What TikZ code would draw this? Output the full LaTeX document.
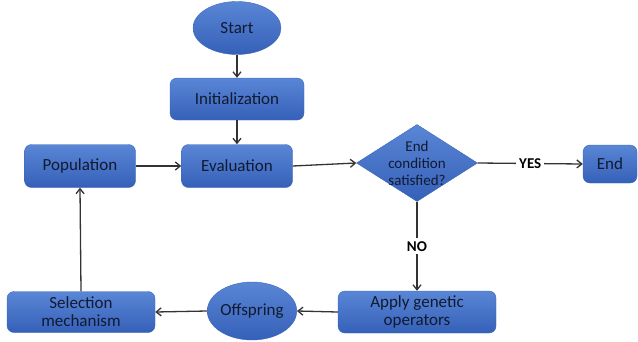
\documentclass[tikz,border=0pt]{standalone}
\usepackage{fontspec}
\setmainfont{Carlito}
\usetikzlibrary{shapes.geometric,arrows.meta}
\definecolor{boxtop}{HTML}{5A86D6}
\definecolor{boxbot}{HTML}{3560B8}
\definecolor{boxedge}{HTML}{3B66BA}
\definecolor{boxtext}{HTML}{111A30}
\definecolor{linecol}{HTML}{333333}
\begin{document}
\begin{tikzpicture}[x=1pt,y=-1pt,
  box/.style={rectangle, rounded corners=7pt, draw=boxedge, top color=boxtop, bottom color=boxbot, text=boxtext, font=\fontsize{17}{18}\selectfont, align=center, inner sep=0pt},
  oval/.style={ellipse, draw=boxedge, top color=boxtop, bottom color=boxbot, text=boxtext, font=\fontsize{17}{18}\selectfont, inner sep=0pt},
  decide/.style={diamond, draw=boxedge, top color=boxtop, bottom color=boxbot, inner sep=0pt},
  flow/.style={-{Straight Barb[length=5pt,width=8pt]}, line width=1.3pt, color=linecol},
  lbl/.style={fill=white, font=\bfseries\fontsize{15}{16}\selectfont, text=black, inner sep=3pt}]
\useasboundingbox (0,0) rectangle (638,341);
\node[oval, minimum width=88, minimum height=53] (start) at (237,28) {Start};
\node[box, minimum width=134, minimum height=42] (init) at (237,99) {Initialization};
\node[box, minimum width=111, minimum height=43] (eval) at (237,166) {Evaluation};
\node[box, minimum width=111, minimum height=43] (pop) at (80,166) {Population};
\node[decide, minimum width=121, minimum height=77,
  label={[text=boxtext, align=center, font=\fontsize{15}{17}\selectfont]center:End\\condition\\satisfied?}] (cond) at (417,163) {};
\node[box, minimum width=54, minimum height=38] (end) at (610,164) {End};
\node[box, minimum width=158, minimum height=42] (apply) at (417,312) {Apply genetic\\operators};
\node[oval, minimum width=83, minimum height=58] (off) at (252,311) {Offspring};
\node[box, minimum width=148, minimum height=41] (sel) at (81,312) {Selection\\mechanism};
\draw[flow] (start) -- (init);
\draw[flow] (init) -- (eval);
\draw[flow] (pop) -- (eval);
\draw[flow] (eval.east) -- (cond.west);
\draw[flow] (cond.east) -- node[lbl]{YES} (end.west);
\draw[flow] (cond.south) -- node[lbl]{NO} (apply.north);
\draw[flow] (apply.west) -- (off.east);
\draw[flow] (off.west) -- (sel.east);
\draw[flow] (sel.north) -- (pop.south);
\end{tikzpicture}
\end{document}
